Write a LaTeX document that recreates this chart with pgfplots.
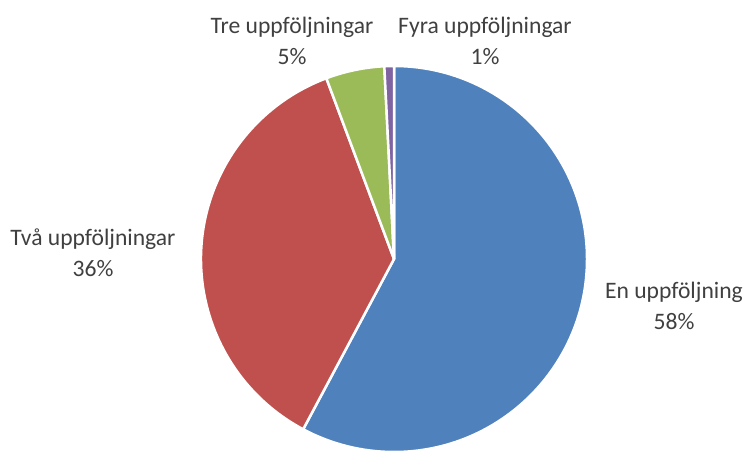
\documentclass[border=0pt]{standalone}
\usepackage{pgfplots}
\pgfplotsset{compat=1.18}
\usepackage{fontspec}
\setmainfont{Carlito}
\definecolor{cBlue}{HTML}{4F81BD}
\definecolor{cRed}{HTML}{C0504D}
\definecolor{cGreen}{HTML}{9BBB59}
\definecolor{cPurple}{HTML}{8064A2}
\definecolor{txt}{HTML}{404040}
% values (percent) of the four slices
\def\vA{57.8}\def\vB{36.5}\def\vC{4.9}\def\vD{0.8}
\def\cx{394}\def\cy{191}\def\R{193}
\begin{document}
\begin{tikzpicture}
\begin{axis}[
  scale only axis, width=746pt, height=450pt,
  xmin=0, xmax=746, ymin=0, ymax=450,
  hide axis, clip=true,
]
\pgfmathsetmacro{\aA}{90}
\pgfmathsetmacro{\aB}{90-3.6*\vA}
\pgfmathsetmacro{\aC}{\aB-3.6*\vB}
\pgfmathsetmacro{\aD}{\aC-3.6*\vC}
\pgfmathsetmacro{\aE}{\aD-3.6*\vD}
\fill[cBlue, draw=white, line width=2.5pt, line join=round] (axis cs:\cx,\cy) -- ++(\aA:\R pt) arc[start angle=\aA, end angle=\aB, radius=\R pt] -- cycle;
\fill[cRed, draw=white, line width=2.5pt, line join=round] (axis cs:\cx,\cy) -- ++(\aB:\R pt) arc[start angle=\aB, end angle=\aC, radius=\R pt] -- cycle;
\fill[cGreen, draw=white, line width=2.5pt, line join=round] (axis cs:\cx,\cy) -- ++(\aC:\R pt) arc[start angle=\aC, end angle=\aD, radius=\R pt] -- cycle;
\fill[cPurple, draw=white, line width=2.5pt, line join=round] (axis cs:\cx,\cy) -- ++(\aD:\R pt) arc[start angle=\aD, end angle=\aE, radius=\R pt] -- cycle;
\begin{scope}[every node/.style={text=txt, font=\fontsize{23.6}{31}\selectfont, align=center}]
\node at (axis cs:674,144) {En uppföljning\\58\%};
\node at (axis cs:93,197) {Två uppföljningar\\36\%};
\node at (axis cs:292,409) {Tre uppföljningar\\5\%};
\node at (axis cs:485,409) {Fyra uppföljningar\\1\%};
\end{scope}
\end{axis}
\pgfresetboundingbox
\path (0,0) rectangle (746pt,450pt);
\end{tikzpicture}
\end{document}
